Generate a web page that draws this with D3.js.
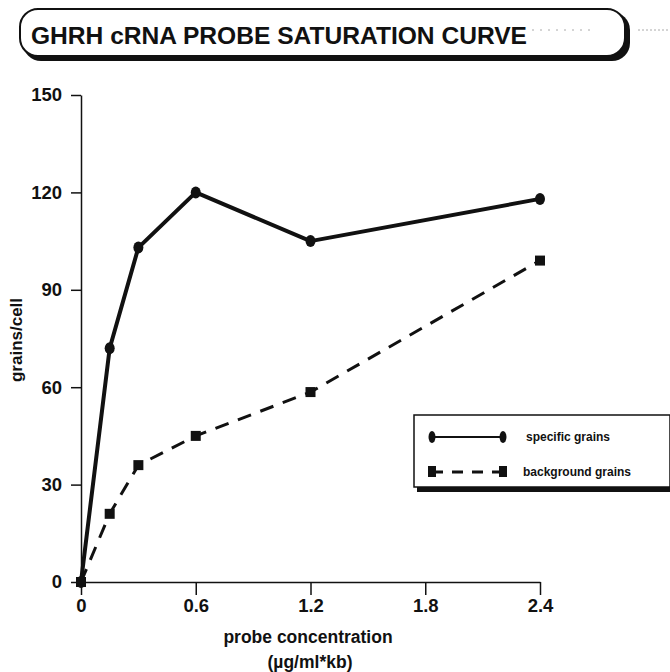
<!DOCTYPE html>
<html>
<head>
<meta charset="utf-8">
<script src="https://cdn.jsdelivr.net/npm/d3@7"></script>
<style>
  body { margin: 0; background: #fff; }
  text { font-family: "Liberation Sans", Arial, sans-serif; font-weight: bold; fill: #111; }
</style>
</head>
<body>
<div class="myChart"></div>
<script>
var svgWidth = 670;
var svgHeight = 672;

// data
var concentrations = [0, 0.15, 0.3, 0.6, 1.2, 2.4];
var specificGrains = [0, 72, 103, 120, 105, 118];
var backgroundGrains = [0, 21, 36, 45, 58.5, 99];
var xTicks = [0, 0.6, 1.2, 1.8, 2.4];
var yTicks = [0, 30, 60, 90, 120, 150];
var seriesNames = ["specific grains", "background grains"];

var svg = d3.select(".myChart")
  .append("svg")
  .attr("width", svgWidth)
  .attr("height", svgHeight);

// title banner with shadow
svg.append("rect")
  .attr("x", 23).attr("y", 12)
  .attr("width", 607).attr("height", 49)
  .attr("rx", 18)
  .attr("fill", "#111");
svg.append("rect")
  .attr("x", 20).attr("y", 9)
  .attr("width", 605).attr("height", 47)
  .attr("rx", 18)
  .attr("fill", "#fff")
  .attr("stroke", "#111")
  .attr("stroke-width", 2);
svg.append("text")
  .attr("x", 31).attr("y", 44)
  .attr("textLength", 496)
  .attr("lengthAdjust", "spacingAndGlyphs")
  .style("font-size", "24.5px")
  .text("GHRH cRNA PROBE SATURATION CURVE");
svg.append("line")
  .attr("x1", 532).attr("x2", 592).attr("y1", 30).attr("y2", 30)
  .attr("stroke", "#aaa").attr("stroke-width", 1)
  .attr("stroke-dasharray", "2,6");
svg.append("line")
  .attr("x1", 638).attr("x2", 670).attr("y1", 30).attr("y2", 30)
  .attr("stroke", "#aaa").attr("stroke-width", 1)
  .attr("stroke-dasharray", "2,2");

var x = d3.scaleLinear().domain([0, 2.4]).range([81, 540]);
var y = d3.scaleLinear().domain([0, 150]).range([582, 95]);

var leftAxis = d3.axisLeft(y).tickValues(yTicks).tickSize(10).tickSizeOuter(0).tickPadding(9);
var bottomAxis = d3.axisBottom(x).tickValues(xTicks)
  .tickFormat(function(d) { return d === 0 ? "0" : d3.format(".1f")(d); })
  .tickSize(13).tickSizeOuter(0).tickPadding(4);

var gy = svg.append("g")
  .attr("transform", "translate(81,0)")
  .call(leftAxis);
var gx = svg.append("g")
  .attr("transform", "translate(0,582)")
  .call(bottomAxis);

[gx, gy].forEach(function(g) {
  g.attr("font-size", null);
  g.select(".domain").attr("stroke", "#111").attr("stroke-width", 1.5);
  g.selectAll(".tick line").attr("stroke", "#111").attr("stroke-width", 1.5);
  g.selectAll(".tick text")
    .attr("fill", "#111")
    .style("font-family", "'Liberation Sans', Arial, sans-serif")
    .style("font-weight", "bold")
    .style("font-size", "18.5px");
});

svg.append("text")
  .attr("transform", "translate(22,340) rotate(-90)")
  .style("text-anchor", "middle")
  .style("font-size", "17px")
  .text("grains/cell");
svg.append("text")
  .attr("x", 308).attr("y", 643)
  .style("text-anchor", "middle")
  .style("font-size", "17.5px")
  .text("probe concentration");
svg.append("text")
  .attr("x", 310).attr("y", 668)
  .style("text-anchor", "middle")
  .style("font-size", "17.5px")
  .text("(\u00b5g/ml*kb)");

var specPts = concentrations.map(function(c, i) { return [c, specificGrains[i]]; });
var bgPts = concentrations.map(function(c, i) { return [c, backgroundGrains[i]]; });
var line = d3.line()
  .x(function(d) { return x(d[0]); })
  .y(function(d) { return y(d[1]); });

svg.append("path")
  .datum(bgPts)
  .attr("d", line)
  .attr("fill", "none")
  .attr("stroke", "#111")
  .attr("stroke-width", 3)
  .attr("stroke-dasharray", "14,10");
svg.append("path")
  .datum(specPts)
  .attr("d", line)
  .attr("fill", "none")
  .attr("stroke", "#111")
  .attr("stroke-width", 4)
  .attr("stroke-linejoin", "round");

svg.selectAll(".bg")
  .data(bgPts)
  .enter().append("rect")
  .attr("class", "bg")
  .attr("x", function(d) { return x(d[0]) - 5; })
  .attr("y", function(d) { return y(d[1]) - 5; })
  .attr("width", 10).attr("height", 10)
  .attr("fill", "#111");
svg.selectAll(".spec")
  .data(specPts)
  .enter().append("ellipse")
  .attr("class", "spec")
  .attr("cx", function(d) { return x(d[0]); })
  .attr("cy", function(d) { return y(d[1]); })
  .attr("rx", 5).attr("ry", 6)
  .attr("fill", "#111");

// legend
var lg = svg.append("g");
lg.append("rect")
  .attr("x", 417).attr("y", 419)
  .attr("width", 255).attr("height", 73)
  .attr("fill", "#111");
lg.append("rect")
  .attr("x", 414).attr("y", 415)
  .attr("width", 256).attr("height", 72)
  .attr("fill", "#fff")
  .attr("stroke", "#111")
  .attr("stroke-width", 1.5);

var rows = lg.selectAll(".row")
  .data(seriesNames)
  .enter().append("g")
  .attr("transform", function(d, i) { return "translate(0," + (437 + i * 35) + ")"; });
rows.append("line")
  .attr("x1", 432).attr("x2", 503)
  .attr("stroke", "#111")
  .attr("stroke-width", function(d, i) { return i === 0 ? 2 : 3; })
  .attr("stroke-dasharray", function(d, i) { return i === 0 ? null : "11,9"; });
rows.each(function(d, i) {
  var g = d3.select(this);
  [432, 503].forEach(function(px) {
    if (i === 0) {
      g.append("ellipse").attr("cx", px).attr("cy", 0).attr("rx", 3.5).attr("ry", 6).attr("fill", "#111");
    } else {
      g.append("rect").attr("x", px - 4).attr("y", -6).attr("width", 8).attr("height", 11).attr("fill", "#111");
    }
  });
});
rows.append("text")
  .attr("x", function(d, i) { return i === 0 ? 526 : 523; })
  .attr("dy", "0.35em")
  .style("font-size", "12px")
  .text(function(d) { return d; });
</script>
</body>
</html>
